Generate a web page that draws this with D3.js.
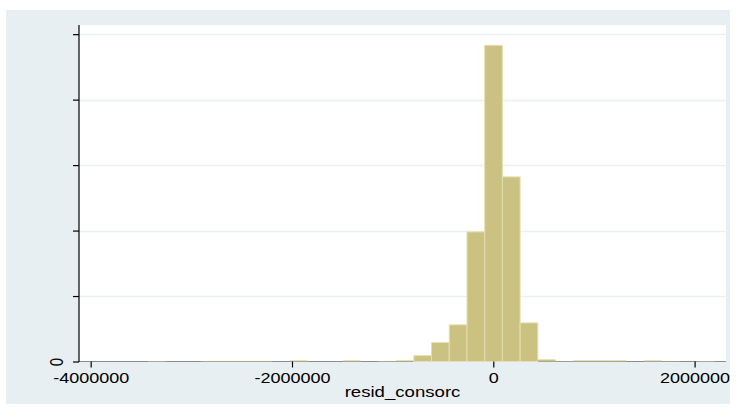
<!DOCTYPE html>
<html>
<head>
<meta charset="utf-8">
<script src="https://cdn.jsdelivr.net/npm/d3@7"></script>
<style>
  html, body { margin: 0; padding: 0; background: #ffffff; }
  svg { display: block; font-family: "Liberation Sans", Arial, sans-serif; }
</style>
</head>
<body>
<svg id="chart" width="736" height="410"></svg>
<script>
// Histogram of residuals (density scale, in y-tick units)
const binStart = -3957400;
const binWidth = 176000;
const density = [
  0, 0, 0, 0.008, 0, 0, 0.008, 0.008, 0.008, 0.008,
  0, 0.015, 0, 0, 0.015, 0, 0.008, 0.015, 0.09, 0.29,
  0.56, 1.98, 4.83, 2.82, 0.59, 0.03, 0.005, 0.015, 0.015, 0.015,
  0, 0.015, 0.005, 0, 0.008
];
const xTicks = [-4000000, -2000000, 0, 2000000];
const xTickLabels = ["-4000000", "-2000000", "0", "2000000"];
const yTicks = [0, 1, 2, 3, 4, 5];
const yTickLabels = ["0", "", "", "", "", ""];
const xTitle = "resid_consorc";

const bins = density.map((d, i) => ({
  x0: binStart + i * binWidth,
  x1: binStart + (i + 1) * binWidth,
  value: d
}));

const svg = d3.select("#chart");
const stretch = "scale(1.2,1)";

// outer graph region
svg.append("rect")
  .attr("x", 6).attr("y", 10).attr("width", 724).attr("height", 394)
  .attr("fill", "#e8eff2");

const plot = { left: 79, right: 726, top: 25, bottom: 361.5 };

// inner plot region
svg.append("rect")
  .attr("x", plot.left).attr("y", plot.top)
  .attr("width", plot.right - plot.left).attr("height", plot.bottom - plot.top)
  .attr("fill", "#ffffff");

const x = d3.scaleLinear().domain([-4116000, 2312000]).range([plot.left, plot.right]);
const y = d3.scaleLinear().domain([0, 5.14]).range([plot.bottom, plot.top]);

// horizontal grid lines
svg.append("g")
  .selectAll("line")
  .data(yTicks.filter(t => t > 0))
  .join("line")
  .attr("x1", plot.left + 1).attr("x2", plot.right)
  .attr("y1", d => Math.round(y(d)) + 0.5).attr("y2", d => Math.round(y(d)) + 0.5)
  .attr("stroke", "#e9f0f2").attr("stroke-width", 1.5);

// x axis baseline
svg.append("line")
  .attr("x1", plot.left).attr("x2", plot.right)
  .attr("y1", plot.bottom).attr("y2", plot.bottom)
  .attr("stroke", "#8c8c8c").attr("stroke-width", 1);

// bars
svg.append("g")
  .selectAll("rect")
  .data(bins.filter(b => b.value > 0))
  .join("rect")
  .attr("x", d => x(d.x0))
  .attr("width", d => x(d.x1) - x(d.x0))
  .attr("y", d => y(d.value))
  .attr("height", d => y(0) - y(d.value))
  .attr("fill", "#cbc281")
  .attr("stroke", d => d.value > 0.05 ? "#e4dfb4" : "none")
  .attr("stroke-width", 1);

// x axis ticks and labels
const xAxis = svg.append("g")
  .attr("transform", `translate(0,${plot.bottom})`)
  .call(d3.axisBottom(x).tickValues(xTicks).tickSize(6)
    .tickFormat((d, i) => xTickLabels[i]));
xAxis.select(".domain").remove();
xAxis.selectAll(".tick line").attr("stroke", "#000").attr("stroke-width", 1.2);
xAxis.selectAll(".tick text")
  .attr("y", 21.5).attr("dy", null)
  .attr("fill", "#000").attr("font-size", 15)
  .attr("font-family", "Liberation Sans, Arial, sans-serif")
  .attr("transform", stretch);

// y axis line, ticks and labels
svg.append("line")
  .attr("x1", plot.left).attr("x2", plot.left)
  .attr("y1", plot.top).attr("y2", plot.bottom + 0.5)
  .attr("stroke", "#000").attr("stroke-width", 1.2);

const yAxis = svg.append("g")
  .attr("transform", `translate(${plot.left},0)`)
  .call(d3.axisLeft(y).tickValues(yTicks).tickSize(6)
    .tickFormat((d, i) => yTickLabels[i]));
yAxis.select(".domain").remove();
yAxis.selectAll(".tick line").attr("stroke", "#000").attr("stroke-width", 1.2);
yAxis.selectAll(".tick text")
  .attr("x", null).attr("dy", null)
  .attr("text-anchor", "middle")
  .attr("fill", "#000").attr("font-size", 15)
  .attr("font-family", "Liberation Sans, Arial, sans-serif")
  .attr("transform", "translate(-16,0) scale(1.2,1) rotate(-90)");

// x axis title
svg.append("text")
  .attr("transform", `translate(${(plot.left + plot.right) / 2},397) ${stretch}`)
  .attr("text-anchor", "middle")
  .attr("font-size", 15.5)
  .attr("fill", "#000")
  .text(xTitle);
</script>
</body>
</html>
